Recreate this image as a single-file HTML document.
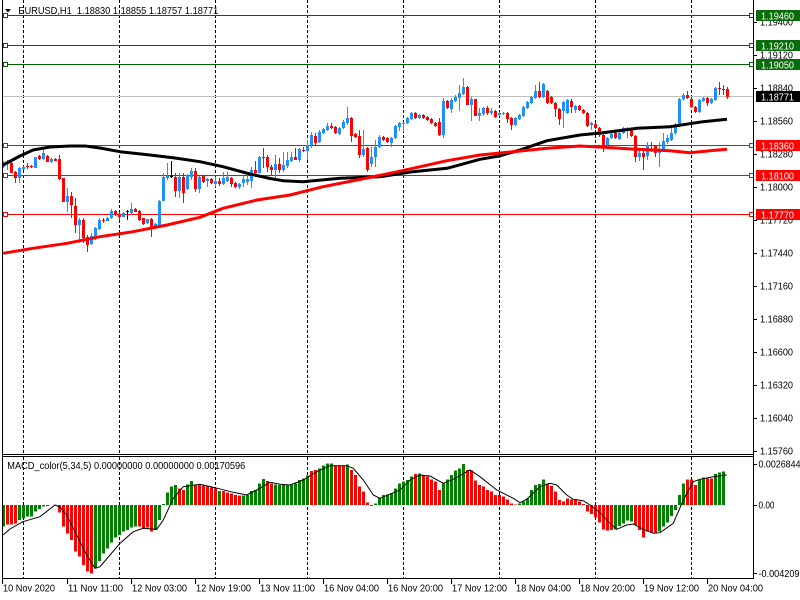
<!DOCTYPE html>
<html><head><meta charset="utf-8"><style>
html,body{margin:0;padding:0;background:#fff;width:800px;height:600px;overflow:hidden}
svg{display:block}
text{font-family:"Liberation Sans",sans-serif;}
</style></head><body>
<svg width="800" height="600" viewBox="0 0 800 600" xmlns="http://www.w3.org/2000/svg">
<rect x="0" y="0" width="800" height="600" fill="#fff"/>
<!-- grid -->
<g stroke="#000" stroke-width="1" stroke-dasharray="3,2" shape-rendering="crispEdges">
<path d="M23.5 0V454M119.5 0V454M215.5 0V454M307.5 0V454M403.5 0V454M499.5 0V454M595.5 0V454M691.5 0V454"/>
<path d="M23.5 457V578M119.5 457V578M215.5 457V578M307.5 457V578M403.5 457V578M499.5 457V578M595.5 457V578M691.5 457V578"/>
</g>
<!-- level lines -->
<g shape-rendering="crispEdges" stroke-width="1">
<path d="M3 15.5H753M3 45.5H753M3 64.5H753" stroke="#006400"/>
<path d="M3 96.5H753" stroke="#c0c0c0"/>
<path d="M3 145.5H753M3 175.5H753M3 214.5H753" stroke="#ff0000"/>
</g>
<!-- candles -->
<g shape-rendering="crispEdges">
<path fill="none" stroke="#1e90ff" d="M3.5 161V168M7.5 160V170M19.5 167V183M23.5 166V170M35.5 157V168M43.5 150V160M51.5 158V163M67.5 188V212M79.5 218V243M91.5 233V245M95.5 227V240M99.5 218V230M107.5 217V221M111.5 209V219M123.5 212V217M131.5 203V215M147.5 219V224M155.5 223V229M159.5 200V225M163.5 173V201M167.5 163V180M179.5 173V198M187.5 174V190M191.5 168V180M199.5 176V193M207.5 178V187M215.5 177V187M223.5 172V185M227.5 172V182M239.5 183V189M243.5 176V187M247.5 175V185M251.5 167V188M259.5 156V173M275.5 155V178M283.5 152V172M287.5 152V168M291.5 152V162M299.5 148V162M307.5 140V160M311.5 132V148M319.5 130V143M323.5 128V134M327.5 123V131M339.5 127V135M343.5 120V129M347.5 107V125M363.5 130V157M371.5 147V167M375.5 140V167M379.5 135V148M391.5 137V147M395.5 125V139M399.5 122V131M403.5 122V132M407.5 117V124M411.5 112V120M419.5 114V119M443.5 98V138M451.5 98V113M455.5 95V102M459.5 85V111M463.5 78V95M471.5 97V121M479.5 108V121M483.5 107V116M491.5 108V115M499.5 112V116M503.5 112V115M515.5 117V126M519.5 114V120M523.5 106V117M527.5 101V109M531.5 96V104M535.5 85V99M543.5 83V98M563.5 101V128M567.5 99V114M575.5 105V113M591.5 122V130M607.5 137V146M611.5 133V139M619.5 132V140M623.5 127V134M627.5 127V138M639.5 148V161M647.5 142V160M659.5 142V167M663.5 133V152M667.5 135V144M671.5 128V141M675.5 123V135M679.5 98V127M683.5 93V101M699.5 99V113M703.5 97V102M711.5 98V104M715.5 87V101"/>
<path fill="#1e90ff" d="M2 163h3V167h-3zM6 162h3V164h-3zM18 168h3V178h-3zM22 167h3V169h-3zM34 157h3V168h-3zM42 153h3V159h-3zM50 159h3V162h-3zM66 196h3V202h-3zM78 220h3V225h-3zM90 236h3V244h-3zM94 228h3V237h-3zM98 220h3V229h-3zM106 218h3V221h-3zM110 211h3V218h-3zM122 213h3V217h-3zM130 209h3V213h-3zM146 219h3V223h-3zM154 224h3V228h-3zM158 201h3V225h-3zM162 177h3V201h-3zM166 176h3V178h-3zM178 177h3V191h-3zM186 175h3V189h-3zM190 171h3V177h-3zM198 177h3V189h-3zM206 179h3V181h-3zM214 181h3V184h-3zM222 178h3V184h-3zM226 177h3V181h-3zM238 184h3V187h-3zM242 179h3V183h-3zM246 179h3V182h-3zM250 170h3V181h-3zM258 157h3V173h-3zM274 164h3V170h-3zM282 165h3V170h-3zM286 160h3V166h-3zM290 157h3V161h-3zM298 149h3V160h-3zM306 145h3V151h-3zM310 135h3V145h-3zM318 132h3V142h-3zM322 129h3V133h-3zM326 126h3V130h-3zM338 128h3V134h-3zM342 122h3V128h-3zM346 118h3V123h-3zM362 149h3V155h-3zM370 157h3V164h-3zM374 147h3V157h-3zM378 137h3V147h-3zM390 138h3V143h-3zM394 126h3V138h-3zM398 123h3V127h-3zM402 123h3V124h-3zM406 118h3V123h-3zM410 113h3V119h-3zM418 115h3V118h-3zM442 101h3V135h-3zM450 100h3V109h-3zM454 97h3V101h-3zM458 93h3V98h-3zM462 87h3V94h-3zM470 99h3V105h-3zM478 113h3V116h-3zM482 108h3V114h-3zM490 111h3V113h-3zM498 113h3V115h-3zM502 113h3V114h-3zM514 118h3V125h-3zM518 115h3V119h-3zM522 107h3V116h-3zM526 102h3V108h-3zM530 97h3V103h-3zM534 91h3V98h-3zM542 84h3V97h-3zM562 102h3V111h-3zM566 100h3V113h-3zM574 106h3V110h-3zM590 123h3V125h-3zM606 138h3V145h-3zM610 134h3V138h-3zM618 133h3V139h-3zM622 128h3V133h-3zM626 129h3V131h-3zM638 153h3V157h-3zM646 145h3V156h-3zM658 150h3V153h-3zM662 141h3V151h-3zM666 138h3V142h-3zM670 133h3V140h-3zM674 126h3V133h-3zM678 99h3V126h-3zM682 95h3V99h-3zM698 100h3V112h-3zM702 98h3V101h-3zM710 99h3V103h-3zM714 88h3V100h-3z"/>
<path fill="none" stroke="#ff0000" d="M11.5 162V173M15.5 171V183M27.5 163V169M31.5 165V168M39.5 155V160M47.5 155V162M55.5 158V161M59.5 155V180M63.5 178V202M71.5 192V218M75.5 198V233M83.5 218V243M87.5 235V252M103.5 218V223M115.5 210V216M119.5 212V220M135.5 208V212M139.5 210V221M143.5 218V225M151.5 218V237M175.5 173V197M183.5 173V203M195.5 168V192M203.5 175V183M211.5 178V184M219.5 178V186M231.5 177V187M235.5 182V188M255.5 161V177M263.5 148V168M267.5 155V172M271.5 165V175M279.5 158V173M295.5 148V160M303.5 147V152M315.5 133V145M331.5 123V129M335.5 126V134M351.5 117V142M355.5 133V138M359.5 130V158M367.5 147V172M383.5 136V141M387.5 137V143M415.5 112V119M423.5 114V119M427.5 116V121M431.5 118V124M435.5 122V127M439.5 118V136M447.5 100V109M467.5 86V105M475.5 99V116M487.5 106V115M495.5 110V118M507.5 112V123M511.5 117V130M539.5 82V98M547.5 90V104M551.5 96V104M555.5 102V117M559.5 108V125M571.5 99V113M579.5 105V111M583.5 109V114M587.5 112V127M595.5 123V129M599.5 127V137M603.5 134V152M615.5 132V139M631.5 128V137M635.5 135V162M643.5 148V170M651.5 142V152M655.5 145V157M687.5 91V99M691.5 98V108M695.5 106V113M707.5 97V106M719.5 82V95M723.5 85V95M727.5 87V99"/>
<path fill="#ff0000" d="M10 163h3V173h-3zM14 172h3V178h-3zM26 166h3V167h-3zM30 166h3V167h-3zM38 156h3V159h-3zM46 156h3V162h-3zM54 159h3V161h-3zM58 159h3V179h-3zM62 178h3V202h-3zM70 196h3V205h-3zM74 206h3V225h-3zM82 220h3V238h-3zM86 237h3V245h-3zM102 220h3V221h-3zM114 211h3V215h-3zM118 214h3V217h-3zM134 209h3V212h-3zM138 211h3V220h-3zM142 218h3V224h-3zM150 219h3V229h-3zM174 177h3V191h-3zM182 177h3V193h-3zM194 171h3V189h-3zM202 176h3V182h-3zM210 179h3V183h-3zM218 181h3V184h-3zM230 178h3V184h-3zM234 183h3V187h-3zM254 170h3V173h-3zM262 157h3V158h-3zM266 157h3V167h-3zM270 167h3V170h-3zM278 164h3V170h-3zM294 157h3V160h-3zM302 150h3V151h-3zM314 136h3V143h-3zM330 126h3V128h-3zM334 127h3V133h-3zM350 118h3V136h-3zM354 134h3V137h-3zM358 136h3V155h-3zM366 148h3V170h-3zM382 137h3V140h-3zM386 138h3V142h-3zM414 113h3V118h-3zM422 115h3V118h-3zM426 117h3V120h-3zM430 119h3V123h-3zM434 123h3V126h-3zM438 122h3V135h-3zM446 101h3V108h-3zM466 87h3V105h-3zM474 99h3V116h-3zM486 108h3V113h-3zM494 111h3V117h-3zM506 113h3V119h-3zM510 118h3V125h-3zM538 91h3V97h-3zM546 91h3V103h-3zM550 97h3V103h-3zM554 103h3V109h-3zM558 109h3V119h-3zM570 101h3V107h-3zM578 106h3V110h-3zM582 110h3V113h-3zM586 113h3V126h-3zM594 124h3V128h-3zM598 128h3V135h-3zM602 135h3V146h-3zM614 133h3V138h-3zM630 129h3V136h-3zM634 136h3V157h-3zM642 153h3V157h-3zM650 145h3V146h-3zM654 146h3V153h-3zM686 95h3V98h-3zM690 99h3V107h-3zM694 107h3V112h-3zM706 98h3V103h-3zM718 88h3V89h-3zM722 89h3V90h-3zM726 89h3V97h-3z"/>
<path fill="none" stroke="#000" d="M127.5 210V220M171.5 161V178"/>
<path fill="#000" d="M126 211h3V212h-3zM170 176h3V177h-3z"/>
</g>
<!-- moving averages -->
<polyline fill="none" stroke="#000" stroke-width="3" stroke-linejoin="round" points="3,165 20,156 33,150 50,147 70,146 85,146 100,148 120,151.7 150,155 175,158 200,161.7 223,166.7 250,174 270,178.5 283,180.7 303,181.7 340,178.3 380,176.7 413,171.7 447,168.3 480,159.3 499,156 520,150 547,140.7 580,135 603,132.7 637,128.3 670,126.7 703,121.7 727,119.3"/>
<polyline fill="none" stroke="#ff0000" stroke-width="3" stroke-linejoin="round" points="3,253.3 33,248.3 67,243.3 100,236.7 133,231.7 167,225 200,217.3 223,208.3 257,200 290,195 323,186.7 357,180 390,173.3 413,168.3 447,160.7 480,155 513,151.7 547,148.3 580,146 603,147.3 637,149.3 670,150.7 690,152.7 710,150.7 727,149.3"/>
<!-- level end squares -->
<g fill="#fff" stroke-width="1" shape-rendering="crispEdges">
<g stroke="#006400"><rect x="3.5" y="13.5" width="4" height="4"/><rect x="3.5" y="43.5" width="4" height="4"/><rect x="3.5" y="62.5" width="4" height="4"/><rect x="749.5" y="13.5" width="4" height="4"/><rect x="749.5" y="43.5" width="4" height="4"/><rect x="749.5" y="62.5" width="4" height="4"/></g>
<g stroke="#ff0000"><rect x="3.5" y="143.5" width="4" height="4"/><rect x="3.5" y="173.5" width="4" height="4"/><rect x="3.5" y="212.5" width="4" height="4"/><rect x="749.5" y="143.5" width="4" height="4"/><rect x="749.5" y="173.5" width="4" height="4"/><rect x="749.5" y="212.5" width="4" height="4"/></g>
</g>
<!-- MACD histogram -->
<g shape-rendering="crispEdges">
<path fill="#008000" d="M2 526.7h3V505h-3zM18 520h3V505h-3zM22 518.3h3V505h-3zM26 516.7h3V505h-3zM30 516.7h3V505h-3zM34 511.7h3V505h-3zM38 509h3V505h-3zM42 506.7h3V505h-3zM94 568.3h3V505h-3zM98 561h3V505h-3zM102 553.3h3V505h-3zM106 548.3h3V505h-3zM110 542.3h3V505h-3zM114 537.7h3V505h-3zM118 535h3V505h-3zM122 531.7h3V505h-3zM126 530h3V505h-3zM130 527.7h3V505h-3zM134 526.7h3V505h-3zM154 530h3V505h-3zM158 520h3V505h-3zM162 504h3V505h-3zM166 492.3h3V505h-3zM170 486.7h3V505h-3zM174 485h3V505h-3zM186 484.3h3V505h-3zM190 481h3V505h-3zM218 491h3V505h-3zM242 495.7h3V505h-3zM246 495h3V505h-3zM250 491h3V505h-3zM254 490h3V505h-3zM258 483.3h3V505h-3zM262 479h3V505h-3zM274 484.3h3V505h-3zM278 485h3V505h-3zM282 485h3V505h-3zM286 485h3V505h-3zM290 484.3h3V505h-3zM294 483.3h3V505h-3zM298 480h3V505h-3zM302 478.3h3V505h-3zM306 475.7h3V505h-3zM318 468.3h3V505h-3zM322 465.7h3V505h-3zM326 463.3h3V505h-3zM330 463.3h3V505h-3zM346 464.3h3V505h-3zM374 503.3h3V505h-3zM378 497.7h3V505h-3zM382 495h3V505h-3zM386 494.3h3V505h-3zM390 493.3h3V505h-3zM394 488.3h3V505h-3zM398 483.3h3V505h-3zM402 481.7h3V505h-3zM406 480h3V505h-3zM410 476.7h3V505h-3zM418 473.3h3V505h-3zM442 483.3h3V505h-3zM446 479.3h3V505h-3zM450 475h3V505h-3zM454 470.7h3V505h-3zM458 468.3h3V505h-3zM462 464h3V505h-3zM518 503.3h3V505h-3zM522 501.7h3V505h-3zM526 498.3h3V505h-3zM530 490h3V505h-3zM534 485h3V505h-3zM538 484h3V505h-3zM542 479.3h3V505h-3zM614 529.3h3V505h-3zM618 526h3V505h-3zM622 523.3h3V505h-3zM626 520.7h3V505h-3zM630 521.7h3V505h-3zM658 531.7h3V505h-3zM662 526.7h3V505h-3zM666 522.7h3V505h-3zM670 516h3V505h-3zM674 510h3V505h-3zM678 495h3V505h-3zM682 483.3h3V505h-3zM698 479.3h3V505h-3zM702 477.3h3V505h-3zM714 474h3V505h-3zM718 472.7h3V505h-3zM722 471.7h3V505h-3z"/>
<path fill="#ff0000" d="M6 524.3h3V505h-3zM10 524.3h3V505h-3zM14 523.3h3V505h-3zM46 506h3V505h-3zM58 512.3h3V505h-3zM62 526.7h3V505h-3zM66 533.3h3V505h-3zM70 540h3V505h-3zM74 551.7h3V505h-3zM78 556.7h3V505h-3zM82 565h3V505h-3zM86 571.7h3V505h-3zM90 573.3h3V505h-3zM138 526.7h3V505h-3zM142 528.3h3V505h-3zM146 527.7h3V505h-3zM150 531.7h3V505h-3zM178 488.3h3V505h-3zM182 490h3V505h-3zM194 485h3V505h-3zM198 485h3V505h-3zM202 485.7h3V505h-3zM206 486.7h3V505h-3zM210 487.7h3V505h-3zM214 488.3h3V505h-3zM222 491h3V505h-3zM226 492.3h3V505h-3zM230 493.3h3V505h-3zM234 495h3V505h-3zM238 495.7h3V505h-3zM266 481h3V505h-3zM270 483.3h3V505h-3zM310 471h3V505h-3zM314 470h3V505h-3zM334 465.7h3V505h-3zM338 465.7h3V505h-3zM342 465.7h3V505h-3zM350 470h3V505h-3zM354 475h3V505h-3zM358 486.7h3V505h-3zM362 491.7h3V505h-3zM366 502.3h3V505h-3zM370 506h3V505h-3zM414 474h3V505h-3zM422 475h3V505h-3zM426 476.7h3V505h-3zM430 479.3h3V505h-3zM434 481.7h3V505h-3zM438 490h3V505h-3zM466 470h3V505h-3zM470 470.7h3V505h-3zM474 480.7h3V505h-3zM478 485h3V505h-3zM482 486.7h3V505h-3zM486 490h3V505h-3zM490 491.7h3V505h-3zM494 495h3V505h-3zM498 495h3V505h-3zM502 496.7h3V505h-3zM506 499.3h3V505h-3zM510 503.3h3V505h-3zM514 504.3h3V505h-3zM546 483.3h3V505h-3zM550 486h3V505h-3zM554 491.7h3V505h-3zM558 500h3V505h-3zM562 501.7h3V505h-3zM566 498.3h3V505h-3zM570 499.3h3V505h-3zM574 500h3V505h-3zM578 501.7h3V505h-3zM582 504h3V505h-3zM586 511.7h3V505h-3zM590 514h3V505h-3zM594 517.3h3V505h-3zM598 522.7h3V505h-3zM602 529.3h3V505h-3zM606 530.7h3V505h-3zM610 530h3V505h-3zM634 525h3V505h-3zM638 530h3V505h-3zM642 537.3h3V505h-3zM646 531.7h3V505h-3zM650 532.7h3V505h-3zM654 532.7h3V505h-3zM686 479.3h3V505h-3zM690 479.3h3V505h-3zM694 485h3V505h-3zM706 478.3h3V505h-3zM710 478.3h3V505h-3z"/>
</g>
<polyline fill="none" stroke="#000" stroke-width="1" points="3,535 10,529 23,521.7 40,516.7 55,505 60,507 66.7,515 76.7,535 86.7,555 95,568.3 100,566.7 110,555 120,543.3 133.3,531.7 143.3,528.3 156.7,529.3 163.3,520 173.3,498.3 183.3,486.7 200,484.3 215,487.7 233.3,492.3 246.7,495 256.7,490 270,482.3 280,484.3 290,485 303.3,480 316.7,471.7 330,465.7 346.7,465.7 353.3,468.3 363.3,480 373.3,495 380,498.3 400,490 410,480 420,475 430,476 443.3,483.3 453.3,479.3 470,470 480,476.7 496.7,490 513.3,498.3 520,502.7 526.7,499.3 540,486.7 550,483.3 556.7,485 566.7,495 573.3,499.3 583.3,500.7 590,505 600,512.7 610,523.3 616.7,529.3 626.7,525 633.3,524 643.3,529.3 653.3,533.3 660,532.7 673.3,523.3 683.3,500 693.3,481.7 700,479.3 713.3,476.7 726.7,475"/>
<!-- frame -->
<g stroke="#000" stroke-width="1" shape-rendering="crispEdges" fill="none">
<path d="M2.5 0V578.5M753.5 0V578.5M2 454.5H754M2 456.5H754M2 578.5H754"/>
<path d="M754 22.5h3M754 55.5h3M754 88.5h3M754 121.5h3M754 154.5h3M754 187.5h3M754 220.5h3M754 253.5h3M754 286.5h3M754 319.5h3M754 352.5h3M754 385.5h3M754 418.5h3M754 451.5h3M754 464.5h3M754 505.5h3M754 573.5h3"/>
<path d="M2.5 578V584M67.5 578V584M131.5 578V584M195.5 578V584M259.5 578V584M323.5 578V584M387.5 578V584M451.5 578V584M515.5 578V584M579.5 578V584M643.5 578V584M707.5 578V584"/>
</g>
<!-- header -->
<polygon points="5,9 11,9 8,12.5" fill="#000"/>
<text x="18.3" y="14" font-size="10.5" fill="#000" textLength="200" lengthAdjust="spacingAndGlyphs" style="white-space:pre">EURUSD,H1  1.18830 1.18855 1.18757 1.18771</text>
<text x="7.3" y="469" font-size="10.5" fill="#000" textLength="238" lengthAdjust="spacingAndGlyphs">MACD_color(5,34,5) 0.00000000 0.00000000 0.00170596</text>
<!-- price axis labels -->
<g font-size="10" fill="#000">
<text x="760" y="25.5" textLength="33" lengthAdjust="spacingAndGlyphs">1.19400</text>
<text x="760" y="58.5" textLength="33" lengthAdjust="spacingAndGlyphs">1.19120</text>
<text x="760" y="91.5" textLength="33" lengthAdjust="spacingAndGlyphs">1.18840</text>
<text x="760" y="124.5" textLength="33" lengthAdjust="spacingAndGlyphs">1.18560</text>
<text x="760" y="157.5" textLength="33" lengthAdjust="spacingAndGlyphs">1.18280</text>
<text x="760" y="190.5" textLength="33" lengthAdjust="spacingAndGlyphs">1.18000</text>
<text x="760" y="223.5" textLength="33" lengthAdjust="spacingAndGlyphs">1.17720</text>
<text x="760" y="256.5" textLength="33" lengthAdjust="spacingAndGlyphs">1.17440</text>
<text x="760" y="289.5" textLength="33" lengthAdjust="spacingAndGlyphs">1.17160</text>
<text x="760" y="322.5" textLength="33" lengthAdjust="spacingAndGlyphs">1.16880</text>
<text x="760" y="355.5" textLength="33" lengthAdjust="spacingAndGlyphs">1.16600</text>
<text x="760" y="388.5" textLength="33" lengthAdjust="spacingAndGlyphs">1.16320</text>
<text x="760" y="421.5" textLength="33" lengthAdjust="spacingAndGlyphs">1.16040</text>
<text x="760" y="454.5" textLength="33" lengthAdjust="spacingAndGlyphs">1.15760</text>
<text x="758.5" y="467.5" textLength="42" lengthAdjust="spacingAndGlyphs">0.0026844</text>
<text x="758.5" y="508.5" textLength="16" lengthAdjust="spacingAndGlyphs">0.00</text>
<text x="758.5" y="577" textLength="41" lengthAdjust="spacingAndGlyphs">-0.004209</text>
</g>
<!-- price boxes -->
<g shape-rendering="crispEdges">
<rect x="756" y="10" width="44" height="11" fill="#0a6b0a"/>
<rect x="756" y="40" width="44" height="11" fill="#0a6b0a"/>
<rect x="756" y="59" width="44" height="11" fill="#0a6b0a"/>
<rect x="756" y="91" width="44" height="11" fill="#000"/>
<rect x="756" y="140" width="44" height="11" fill="#ff0000"/>
<rect x="756" y="170" width="44" height="11" fill="#ff0000"/>
<rect x="756" y="209" width="44" height="11" fill="#ff0000"/>
</g>
<g font-size="10" fill="#fff">
<text x="761" y="19.5" textLength="33" lengthAdjust="spacingAndGlyphs">1.19460</text>
<text x="761" y="49.5" textLength="33" lengthAdjust="spacingAndGlyphs">1.19210</text>
<text x="761" y="68.5" textLength="33" lengthAdjust="spacingAndGlyphs">1.19050</text>
<text x="761" y="100.5" textLength="33" lengthAdjust="spacingAndGlyphs">1.18771</text>
<text x="761" y="149.5" textLength="33" lengthAdjust="spacingAndGlyphs">1.18360</text>
<text x="761" y="179.5" textLength="33" lengthAdjust="spacingAndGlyphs">1.18100</text>
<text x="761" y="218.5" textLength="33" lengthAdjust="spacingAndGlyphs">1.17770</text>
</g>
<!-- time axis labels -->
<g font-size="10.5" fill="#000">
<text x="3" y="591.5" textLength="52" lengthAdjust="spacingAndGlyphs">10 Nov 2020</text>
<text x="68" y="591.5" textLength="55" lengthAdjust="spacingAndGlyphs">11 Nov 11:00</text>
<text x="132" y="591.5" textLength="55" lengthAdjust="spacingAndGlyphs">12 Nov 03:00</text>
<text x="196" y="591.5" textLength="55" lengthAdjust="spacingAndGlyphs">12 Nov 19:00</text>
<text x="260" y="591.5" textLength="55" lengthAdjust="spacingAndGlyphs">13 Nov 11:00</text>
<text x="324" y="591.5" textLength="55" lengthAdjust="spacingAndGlyphs">16 Nov 04:00</text>
<text x="388" y="591.5" textLength="55" lengthAdjust="spacingAndGlyphs">16 Nov 20:00</text>
<text x="452" y="591.5" textLength="55" lengthAdjust="spacingAndGlyphs">17 Nov 12:00</text>
<text x="516" y="591.5" textLength="55" lengthAdjust="spacingAndGlyphs">18 Nov 04:00</text>
<text x="580" y="591.5" textLength="55" lengthAdjust="spacingAndGlyphs">18 Nov 20:00</text>
<text x="644" y="591.5" textLength="55" lengthAdjust="spacingAndGlyphs">19 Nov 12:00</text>
<text x="708" y="591.5" textLength="55" lengthAdjust="spacingAndGlyphs">20 Nov 04:00</text>
</g>
</svg>
</body></html>
